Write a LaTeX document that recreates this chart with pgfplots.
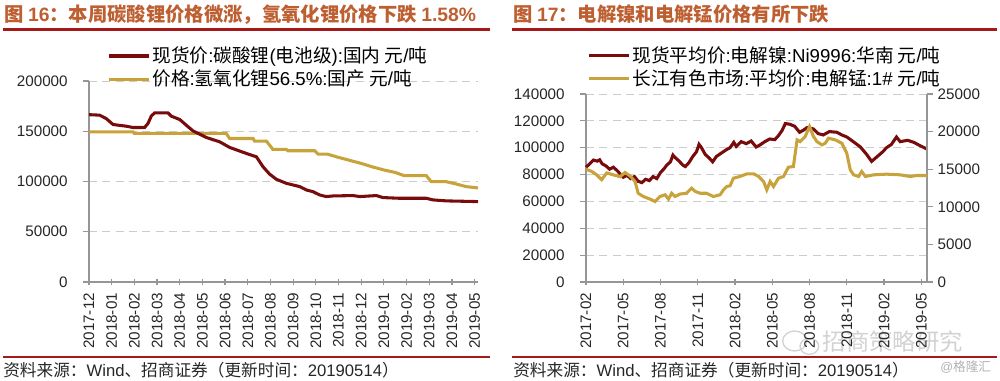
\documentclass[border=0pt]{standalone}
\usepackage{fontspec}
\setmainfont{Liberation Sans}
\newfontfamily\cjk{Noto Sans CJK SC}
\newcommand\zh[1]{{\cjk #1}}
\usepackage{pgfplots}
\pgfplotsset{compat=1.18}
\definecolor{nic}{RGB}{120,12,12}
\definecolor{gld}{RGB}{200,163,60}
\definecolor{ttl}{RGB}{190,95,50}
\definecolor{rul}{RGB}{165,25,25}
\definecolor{axc}{RGB}{150,150,150}
\pgfplotsset{
  myaxis/.style={
    scale only axis, clip=false,
    axis line style={draw=axc, line width=0.9pt, -},
    tick style={draw=axc, line width=0.9pt},
    major tick length=4.5pt,
    ytick align=outside, xtick align=center,
    grid style={draw=gray!40, line width=0.7pt, dash pattern=on 6pt off 4pt},
    tick label style={font=\fontsize{11.4}{13}\selectfont, text=black!85},
    /pgf/number format/fixed,
    /pgf/number format/precision=0,
    /pgf/number format/assume math mode=true,
    /pgf/number format/1000 sep={},
    scaled y ticks=false,
    legend image code/.code={\draw[##1] (0pt,0pt) -- (30pt,0pt);},
    legend style={draw=none, fill=none, font=\fontsize{14}{16}\selectfont, row sep=1pt, inner sep=0pt, nodes={inner sep=1.5pt}},
    legend cell align=left,
    xticklabel style={yshift=-2.5pt, rotate=90, anchor=east},
  },
}
\begin{document}
\begin{tikzpicture}
\useasboundingbox (0,0) rectangle (750pt,285.75pt);
% titles
\node[anchor=west, text=ttl, font=\fontsize{14.5}{16}\selectfont\bfseries, inner sep=0pt] at (3pt,274.9pt)
  {\zh{图 }16\zh{：本周碳酸锂价格微涨，氢氧化锂价格下跌 }1.58\%};
\node[anchor=west, text=ttl, font=\fontsize{14.5}{16}\selectfont\bfseries, inner sep=0pt] at (384.75pt,274.9pt)
  {\zh{图 }17\zh{：电解镍和电解锰价格有所下跌}};
\draw[rul, line width=1.6pt] (2.25pt,263.6pt) -- (367.5pt,263.6pt);
\draw[rul, line width=1.6pt] (384pt,263.6pt) -- (747.75pt,263.6pt);
\draw[rul, line width=1.4pt] (2.25pt,18pt) -- (367.5pt,18pt);
\draw[rul, line width=1.4pt] (384pt,18pt) -- (747.75pt,18pt);
\node[anchor=west, font=\fontsize{12.5}{14}\selectfont, text=black!85, inner sep=0pt] at (2.25pt,8.25pt)
  {\zh{资料来源：}Wind\zh{、招商证券（更新时间：}20190514\zh{）}};
\node[anchor=west, font=\fontsize{12.5}{14}\selectfont, text=black!85, inner sep=0pt] at (384.75pt,8.25pt)
  {\zh{资料来源：}Wind\zh{、招商证券（更新时间：}20190514\zh{）}};
\node[anchor=west, font=\fontsize{9.5}{11}\selectfont, text=gray!60, inner sep=0pt] at (705pt,10.5pt) {@\zh{格隆汇}};
% watermark
\draw[gray!35, line width=1pt] (596pt,30pt) ellipse (9pt and 7.5pt);
\draw[gray!35, line width=1pt] (607pt,26pt) ellipse (7pt and 6pt);
\node[anchor=west, font=\fontsize{17.5}{19}\selectfont, text=gray!35, inner sep=0pt] at (617pt,29.25pt) {\zh{招商策略研究}};

% left chart
\begin{axis}[myaxis, at={(66.75pt,74.25pt)}, anchor=south west,
  width=291.75pt, height=150.75pt,
  xmin=0, xmax=17.15, ymin=0, ymax=200000,
  ytick={0,50000,...,200000}, ymajorgrids,
  xtick={0,...,17},
  xticklabels={2017-12,2018-01,2018-02,2018-03,2018-04,2018-05,2018-06,2018-07,2018-08,2018-09,2018-10,2018-11,2018-12,2019-01,2019-02,2019-03,2019-04,2019-05},
  yticklabel style={xshift=-8pt},
  axis x line*=bottom, axis y line*=left,
  legend style={at={(0.0463,1.067)}, anchor=west}]
\addplot[gld, line width=2.3pt, forget plot] coordinates {
(0,149400) (1.94,149400) (2.0,147800) (6.05,147800) (6.2,142800) (7.23,142800) (7.3,140200) (7.82,140200) (7.96,136200) (8.11,131900) (8.7,131900) (8.77,130600) (9.95,130600) (10.1,127300) (10.5,127300) (11.0,124000) (11.5,121000) (12.0,118000) (12.5,114500) (13.0,111500) (13.5,109000) (13.9,105800) (14.87,105800) (15.09,99800) (15.75,99800) (16.19,97500) (16.63,94900) (17.15,93600)};
\addplot[nic, line width=2.3pt] coordinates {
(0,166500) (0.47,166000) (0.76,162600) (1.06,156700) (1.65,155000) (1.94,153700) (2.45,153700) (2.6,157700) (2.75,165300) (2.9,168300) (3.48,168300) (3.63,165000) (4.0,161700) (4.29,156000) (4.58,150400) (4.88,147100) (5.17,143800) (5.76,139500) (6.2,133900) (6.94,127900) (7.38,124600) (7.67,114700) (7.96,107400) (8.26,102200) (8.7,98200) (9.29,94900) (9.58,91600) (9.87,89900) (10.17,86600) (10.46,85000) (10.75,85600) (11.64,86000) (11.94,85000) (12.67,86000) (12.96,84000) (13.7,83300) (14.87,83300) (15.16,81700) (15.75,80700) (17.15,80000)};
\addlegendentry{\zh{现货价}:\zh{碳酸锂}(\zh{电池级}):\zh{国内 元}/\zh{吨}}
\addlegendimage{gld, line width=2.3pt}
\addlegendentry{\zh{价格}:\zh{氢氧化锂}56.5\%:\zh{国产 元}/\zh{吨}}
\end{axis}

% right chart, left axis
\begin{axis}[myaxis, at={(439.5pt,74.25pt)}, anchor=south west,
  width=255.75pt, height=141pt,
  xmin=0, xmax=27.46, ymin=0, ymax=140000,
  ytick={0,20000,...,140000}, ymajorgrids,
  xtick={0,3,...,27},
  xticklabels={2017-02,2017-05,2017-08,2017-11,2018-02,2018-05,2018-08,2018-11,2019-02,2019-05},
  yticklabel style={xshift=-8pt},
  axis x line*=bottom, axis y line*=left]
\addplot[nic, line width=2.3pt] coordinates {
(0,85500) (0.3,88000) (0.6,90800) (0.9,90000) (1.1,91000) (1.3,88000) (1.6,86500) (1.9,84000) (2.2,85500) (2.5,83000) (2.8,80000) (3.0,78000) (3.3,79500) (3.6,77000) (3.9,78500) (4.2,75000) (4.5,74000) (4.8,76500) (5.1,75500) (5.4,78500) (5.7,77000) (6.0,81500) (6.3,84500) (6.5,87000) (6.8,89500) (7.0,94500) (7.2,92500) (7.5,90000) (7.8,87000) (8.0,86000) (8.3,89000) (8.6,93500) (8.9,97000) (9.1,102500) (9.3,100000) (9.6,95000) (9.9,92500) (10.2,89500) (10.5,93500) (10.9,96000) (11.3,98500) (11.6,100000) (11.9,104000) (12.1,101000) (12.5,104500) (12.9,103000) (13.3,105000) (13.7,100500) (14.0,102000) (14.4,104500) (14.8,106500) (15.2,106000) (15.5,109000) (15.8,113000) (16.05,118000) (16.4,117500) (16.8,116000) (17.2,111500) (17.5,113000) (17.8,115000) (18.3,114000) (18.7,110500) (19.1,109500) (19.6,112000) (20.2,111500) (20.6,109500) (21.0,108000) (21.6,104000) (22.1,100500) (22.6,95000) (23.0,89800) (23.4,93000) (23.9,97000) (24.2,100000) (24.6,102500) (25.0,108000) (25.3,104500) (25.9,105500) (26.4,104000) (26.9,101500) (27.46,99000)};
\end{axis}

% right chart, right axis
\begin{axis}[myaxis, at={(439.5pt,74.25pt)}, anchor=south west,
  width=255.75pt, height=141pt,
  xmin=0, xmax=27.46, ymin=0, ymax=25000,
  ytick={0,5000,...,25000},
  axis y line*=right, axis x line=none,
  legend style={at={(0.003,1.144)}, anchor=west}]
\addlegendimage{nic, line width=2.3pt}
\addlegendentry{\zh{现货平均价}:\zh{电解镍}:Ni9996:\zh{华南 元}/\zh{吨}}
\addplot[gld, line width=2.3pt] coordinates {
(0,15000) (0.46,14700) (0.86,14250) (1.26,13600) (1.67,14500) (2.2,14250) (2.74,14000) (3.14,14560) (3.55,14100) (3.95,13360) (4.2,11800) (4.62,11370) (5.16,11020) (5.56,10700) (5.96,11370) (6.37,11600) (6.64,11020) (6.9,11800) (7.17,11370) (7.58,11700) (8.1,11800) (8.5,12480) (8.8,12040) (9.2,11800) (9.7,11800) (10.26,11370) (10.8,11600) (11.07,12260) (11.34,12700) (11.6,12790) (11.87,13800) (12.4,14030) (12.95,14380) (13.5,14380) (13.9,14030) (14.3,13360) (14.56,12260) (14.83,13360) (15.1,12700) (15.5,13800) (15.9,14030) (16.3,15270) (16.7,15350) (17.0,18900) (17.25,18670) (17.65,19340) (18.0,20670) (18.32,19340) (18.6,18670) (19.0,18230) (19.26,18450) (19.53,19120) (20.07,18900) (20.6,18450) (21.0,17120) (21.28,14910) (21.55,14250) (21.95,14030) (22.2,14690) (22.5,14030) (23.16,14250) (24.2,14340) (25.3,14250) (26.1,14030) (26.65,14160) (27.46,14160)};
\addlegendentry{\zh{长江有色市场}:\zh{平均价}:\zh{电解锰}:1\# \zh{元}/\zh{吨}}
\end{axis}
\end{tikzpicture}
\end{document}
